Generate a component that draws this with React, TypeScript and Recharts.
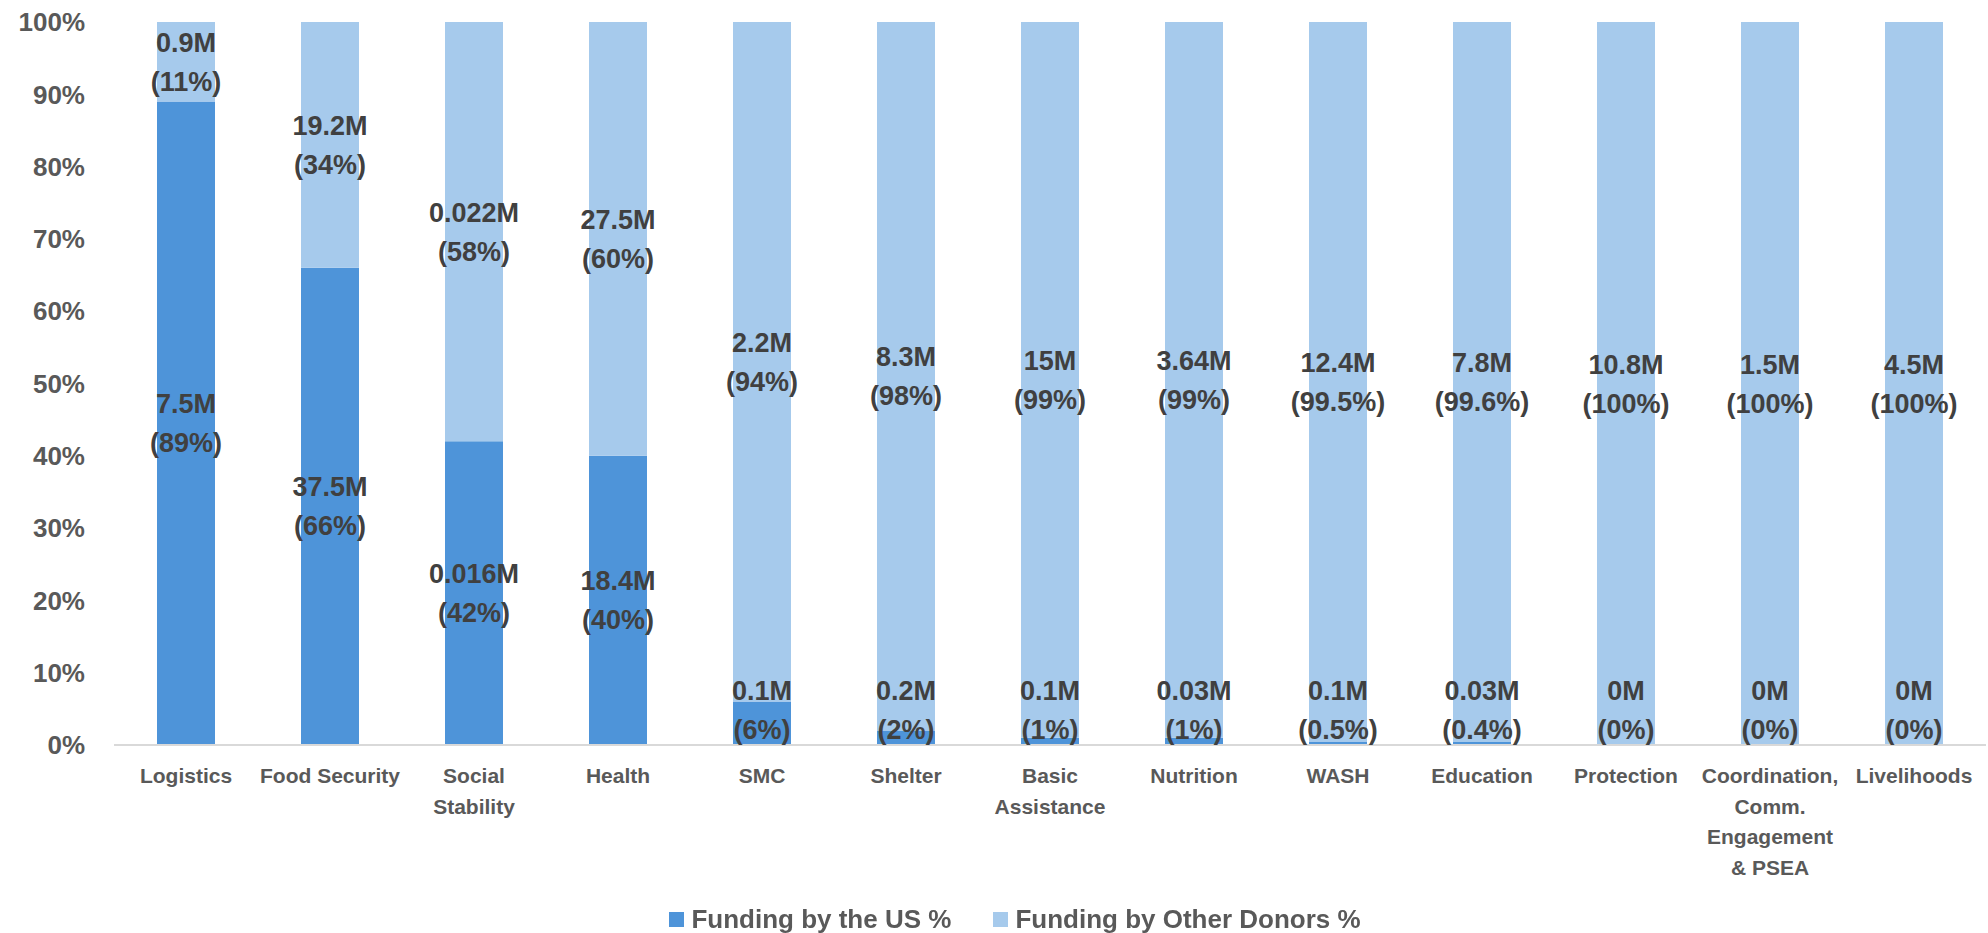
import React from 'react';
import { BarChart, Bar, XAxis, YAxis, LabelList, Legend } from 'recharts';

const categories = [
  'Logistics',
  'Food Security',
  'Social Stability',
  'Health',
  'SMC',
  'Shelter',
  'Basic Assistance',
  'Nutrition',
  'WASH',
  'Education',
  'Protection',
  'Coordination, Comm. Engagement & PSEA',
  'Livelihoods',
];
const tickLines: string[][] = [
  ['Logistics'],
  ['Food Security'],
  ['Social', 'Stability'],
  ['Health'],
  ['SMC'],
  ['Shelter'],
  ['Basic', 'Assistance'],
  ['Nutrition'],
  ['WASH'],
  ['Education'],
  ['Protection'],
  ['Coordination,', 'Comm.', 'Engagement', '& PSEA'],
  ['Livelihoods'],
];
const usPct = [89, 66, 42, 40, 6, 2, 1, 1, 0.5, 0.4, 0, 0, 0];
const otherPct = [11, 34, 58, 60, 94, 98, 99, 99, 99.5, 99.6, 100, 100, 100];
const usAmount = ['7.5M', '37.5M', '0.016M', '18.4M', '0.1M', '0.2M', '0.1M', '0.03M', '0.1M', '0.03M', '0M', '0M', '0M'];
const otherAmount = ['0.9M', '19.2M', '0.022M', '27.5M', '2.2M', '8.3M', '15M', '3.64M', '12.4M', '7.8M', '10.8M', '1.5M', '4.5M'];
const yTicks = [0, 10, 20, 30, 40, 50, 60, 70, 80, 90, 100];

const seriesNames = ['Funding by the US %', 'Funding by Other Donors %'];
const US_COLOR = '#4E94D9';
const OTHER_COLOR = '#A6CAEC';

const W = 1988;
const H = 933;
const MARGIN = { top: 22, right: 2, left: 20, bottom: 0 };
const X_AXIS_H = 160;
const LEGEND_H = 28;
const PLOT_TOP = MARGIN.top;
const PLOT_BOTTOM = H - MARGIN.bottom - LEGEND_H - X_AXIS_H;
const FONT = '"Liberation Sans", Arial, sans-serif';

const data = categories.map((c, i) => ({ name: c, us: usPct[i], other: otherPct[i] }));

const twoLine = (key: string, cx: number, cy: number, amount: string, pct: number) => {
  const halfTop = 39;
  const halfBottom = 35;
  let y = cy;
  if (y > PLOT_BOTTOM - halfBottom) y = PLOT_BOTTOM - halfBottom;
  if (y < PLOT_TOP + halfTop) y = PLOT_TOP + halfTop;
  return (
    <text key={key} textAnchor="middle" fill="#404040" fontFamily={FONT} fontWeight="bold" fontSize={27}>
      <tspan x={cx} y={y - 10}>{amount}</tspan>
      <tspan x={cx} y={y + 29}>{`(${pct}%)`}</tspan>
    </text>
  );
};

const getBox = (p: any) => {
  const vb = p.viewBox && p.viewBox.width != null ? p.viewBox : p;
  const x = Number(vb.x);
  const y = Number(vb.y);
  const w = Number(vb.width);
  const h = Number(vb.height);
  const top = Math.min(y, y + h);
  return { x, top, bottom: top + Math.abs(h), w };
};

const usLabel = (p: any) => {
  const idx = p.index;
  if (idx == null) return null;
  const b = getBox(p);
  if (isNaN(b.x)) return null;
  return twoLine('us', b.x + b.w / 2, (b.top + b.bottom) / 2, usAmount[idx], usPct[idx]);
};

const otherLabel = (p: any) => {
  const idx = p.index;
  if (idx == null) return null;
  const b = getBox(p);
  if (isNaN(b.x)) return null;
  const cx = b.x + b.w / 2;
  const parts = [twoLine('other', cx, (b.top + b.bottom) / 2, otherAmount[idx], otherPct[idx])];
  // zero-height US segments get no label from their own bar; draw it at the stack base
  if (usPct[idx] === 0) parts.push(twoLine('uszero', cx, b.bottom, usAmount[idx], usPct[idx]));
  return <g>{parts}</g>;
};

const XTick = (props: any) => {
  const { x, y, payload } = props;
  const idx = categories.indexOf(payload.value);
  const lines = idx >= 0 ? tickLines[idx] : [String(payload.value)];
  return (
    <text textAnchor="middle" fill="#595959" fontFamily={FONT} fontWeight="bold" fontSize={21}>
      {lines.map((l, i) => (
        <tspan key={i} x={x} y={y + 38 + i * 30.5}>
          {l}
        </tspan>
      ))}
    </text>
  );
};

const LegendContent = () => (
  <div
    style={{
      height: LEGEND_H,
      display: 'flex',
      justifyContent: 'center',
      alignItems: 'center',
      gap: 42,
      paddingLeft: 24,
      fontFamily: FONT,
      fontWeight: 'bold',
      fontSize: 26,
      color: '#595959',
      whiteSpace: 'nowrap',
    }}
  >
    {[US_COLOR, OTHER_COLOR].map((c, i) => (
      <div key={i} style={{ display: 'flex', alignItems: 'center' }}>
        <span style={{ display: 'inline-block', width: 15, height: 15, background: c, marginRight: 7 }} />
        <span>{seriesNames[i]}</span>
      </div>
    ))}
  </div>
);

export default function App() {
  return (
    <div style={{ position: 'fixed', left: 0, top: 0, width: W, height: H, background: '#fff' }}>
      <BarChart width={W} height={H} data={data} margin={MARGIN} barSize={58}>
        <XAxis
          dataKey="name"
          interval={0}
          height={X_AXIS_H}
          tickLine={false}
          tickSize={0}
          tickMargin={0}
          axisLine={{ stroke: '#D9D9D9', strokeWidth: 2 }}
          tick={<XTick />}
        />
        <YAxis
          width={94}
          domain={[0, 100]}
          ticks={yTicks}
          interval={0}
          axisLine={false}
          tickLine={false}
          tickSize={0}
          tickMargin={29}
          tickFormatter={(v: number) => `${v}%`}
          tick={{ fill: '#595959', fontFamily: FONT, fontWeight: 'bold', fontSize: 26 }}
        />
        <Legend verticalAlign="bottom" content={<LegendContent />} />
        <Bar dataKey="us" name={seriesNames[0]} stackId="a" fill={US_COLOR} isAnimationActive={false}>
          <LabelList dataKey="us" content={usLabel} />
        </Bar>
        <Bar dataKey="other" name={seriesNames[1]} stackId="a" fill={OTHER_COLOR} isAnimationActive={false}>
          <LabelList dataKey="other" content={otherLabel} />
        </Bar>
      </BarChart>
    </div>
  );
}
